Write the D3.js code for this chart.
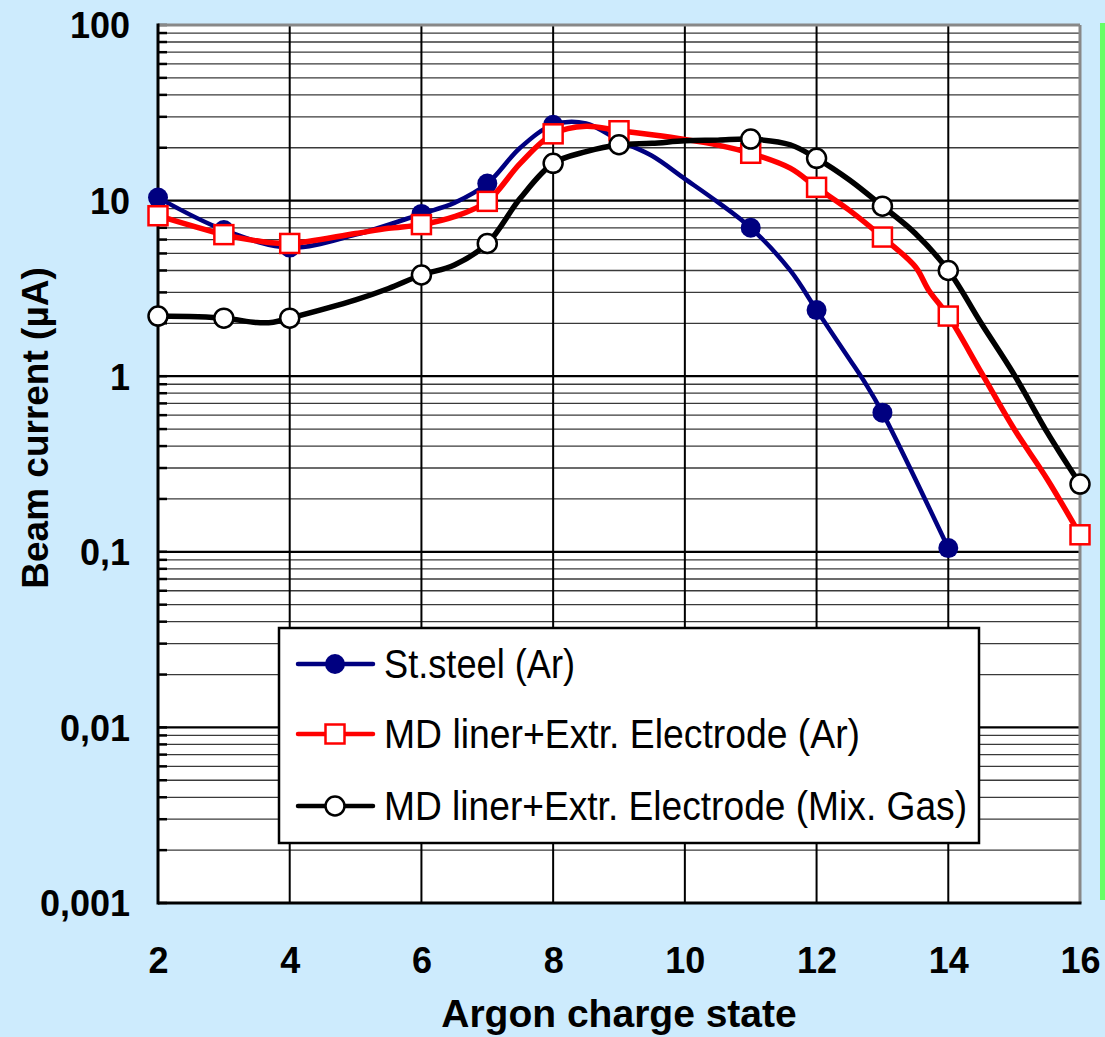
<!DOCTYPE html>
<html>
<head>
<meta charset="utf-8">
<script src="https://cdnjs.cloudflare.com/ajax/libs/d3/7.8.5/d3.min.js"></script>
<style>
  body { margin: 0; background: #cdebfd; }
  svg { display: block; }
  text { font-family: "Liberation Sans", Arial, sans-serif; }
</style>
</head>
<body>
<svg id="viz-svg" width="1105" height="1037"></svg>
<script>
// ---- data ----
var xTicks = [2, 4, 6, 8, 10, 12, 14, 16];
var yTicks = [100, 10, 1, 0.1, 0.01, 0.001];
var yTickLabels = ["100", "10", "1", "0,1", "0,01", "0,001"];

var steelX = [2, 3, 4, 5, 6, 6.5, 7, 7.5, 8, 8.5, 9, 9.5, 10, 10.5, 11, 11.6, 12, 12.5, 12.75, 13, 14];
var steelY = [10.4, 6.8, 5.4, 6.4, 8.4, 9.7, 12.5, 20, 27, 27.5, 22, 18, 13.3, 9.8, 7.0, 4.0, 2.38, 1.25, 0.9, 0.62, 0.105];
var steelMarks = [2, 3, 4, 6, 7, 8, 11, 12, 13, 14];

var mdArX = [2, 3, 3.5, 4, 5, 5.5, 6, 6.5, 7, 7.5, 8, 8.5, 9, 9.5, 10, 10.5, 11, 11.6, 12, 12.5, 13, 13.5, 13.7, 14, 14.5, 15, 15.5, 16];
var mdArY = [8.2, 6.4, 5.9, 5.7, 6.5, 6.95, 7.3, 8.1, 9.9, 16.3, 24, 26.5, 25, 23.7, 22.3, 20.7, 18.6, 15.3, 11.9, 8.8, 6.2, 4.2, 3.1, 2.2, 1.05, 0.5, 0.26, 0.125];
var mdArMarks = [2, 3, 4, 6, 7, 8, 9, 11, 12, 13, 14, 16];

var mixX = [2, 3, 3.5, 3.75, 4, 5, 5.5, 6, 6.5, 7, 7.5, 8, 8.5, 9, 9.5, 10, 10.5, 11, 11.6, 12, 12.5, 13, 13.5, 14, 14.5, 15, 15.5, 15.75, 16];
var mixY = [2.2, 2.14, 2.02, 2.03, 2.14, 2.72, 3.16, 3.77, 4.3, 5.7, 10.3, 16.3, 19, 20.8, 21.2, 21.9, 22.1, 22.4, 20.8, 17.4, 13.1, 9.3, 6.5, 4.0, 2.0, 1.02, 0.48, 0.34, 0.243];
var mixMarks = [2, 3, 4, 6, 7, 8, 9, 11, 12, 13, 14, 16];

var seriesNames = ["St.steel (Ar)", "MD liner+Extr. Electrode (Ar)", "MD liner+Extr. Electrode (Mix. Gas)"];

var series = [
  {name: seriesNames[0], xs: steelX, ys: steelY, marks: steelMarks, color: "#000080", width: 4.5, marker: "dot"},
  {name: seriesNames[1], xs: mdArX, ys: mdArY, marks: mdArMarks, color: "#ff0000", width: 5.5, marker: "square"},
  {name: seriesNames[2], xs: mixX, ys: mixY, marks: mixMarks, color: "#000000", width: 5.5, marker: "circle"}
];

var svg = d3.select("#viz-svg");
var pLeft = 158, pRight = 1080, pTop = 25, pBottom = 903;

var x = d3.scaleLinear().domain([2, 16]).range([pLeft, pRight]);
var y = d3.scaleLog().domain([0.001, 100]).range([pBottom, pTop]);

// green strip at the right
svg.append("rect").attr("x", 1100).attr("y", 23).attr("width", 6).attr("height", 877).attr("fill", "#66ff66");

// plot area
svg.append("rect").attr("x", pLeft).attr("y", pTop).attr("width", pRight - pLeft).attr("height", pBottom - pTop).attr("fill", "#fff");

// minor grid
var minor = [];
[0.001, 0.01, 0.1, 1, 10].forEach(function(d){
  for (var k = 2; k < 10; k++) minor.push(d * k);
});
var grid = svg.append("g");
grid.selectAll(".minor").data(minor).enter().append("line")
  .attr("x1", pLeft).attr("x2", pRight)
  .attr("y1", function(d){ return y(d); }).attr("y2", function(d){ return y(d); })
  .attr("stroke", "#3a3a3a").attr("stroke-width", 1.3);
grid.selectAll(".major").data(yTicks).enter().append("line")
  .attr("x1", pLeft).attr("x2", pRight)
  .attr("y1", function(d){ return y(d); }).attr("y2", function(d){ return y(d); })
  .attr("stroke", "#000").attr("stroke-width", 2.2);
grid.selectAll(".vert").data(xTicks).enter().append("line")
  .attr("x1", function(d){ return x(d); }).attr("x2", function(d){ return x(d); })
  .attr("y1", pTop).attr("y2", pBottom)
  .attr("stroke", "#000").attr("stroke-width", 2);
// short ticks inside the left axis
grid.selectAll(".tick-in").data(minor.concat(yTicks)).enter().append("line")
  .attr("x1", pLeft).attr("x2", pLeft + 9)
  .attr("y1", function(d){ return y(d); }).attr("y2", function(d){ return y(d); })
  .attr("stroke", "#000").attr("stroke-width", 2.5);

// frame: top/right gray, left/bottom black
svg.append("line").attr("x1", pLeft).attr("x2", pRight).attr("y1", pTop).attr("y2", pTop).attr("stroke", "#888").attr("stroke-width", 3);
svg.append("line").attr("x1", pRight).attr("x2", pRight).attr("y1", pTop).attr("y2", pBottom).attr("stroke", "#888").attr("stroke-width", 3);
svg.append("line").attr("x1", pLeft).attr("x2", pLeft).attr("y1", pTop - 1.5).attr("y2", pBottom + 1.5).attr("stroke", "#000").attr("stroke-width", 3);
svg.append("line").attr("x1", pLeft).attr("x2", pRight + 1.5).attr("y1", pBottom).attr("y2", pBottom).attr("stroke", "#000").attr("stroke-width", 3);

// series
var line = d3.line()
  .x(function(d){ return x(d[0]); })
  .y(function(d){ return y(d[1]); })
  .curve(d3.curveCatmullRom.alpha(0.5));

function drawMarker(g, type, cx, cy, color){
  if (type === "dot") {
    g.append("circle").attr("cx", cx).attr("cy", cy).attr("r", 10).attr("fill", color);
  } else if (type === "square") {
    g.append("rect").attr("x", cx - 9.5).attr("y", cy - 9.5).attr("width", 19).attr("height", 19)
      .attr("fill", "#fff").attr("stroke", color).attr("stroke-width", 2.5);
  } else {
    g.append("circle").attr("cx", cx).attr("cy", cy).attr("r", 9.5)
      .attr("fill", "#fff").attr("stroke", color).attr("stroke-width", 2.5);
  }
}

series.forEach(function(s){
  var pts = s.xs.map(function(v, i){ return [v, s.ys[i]]; });
  var g = svg.append("g");
  g.append("path").datum(pts).attr("d", line)
    .attr("fill", "none").attr("stroke", s.color).attr("stroke-width", s.width)
    .attr("stroke-linejoin", "round");
  pts.filter(function(p){ return s.marks.indexOf(p[0]) >= 0; }).forEach(function(p){
    drawMarker(g, s.marker, x(p[0]), y(p[1]), s.color);
  });
});

// axes labels via d3 axes
var yAxis = d3.axisLeft(y).tickValues(yTicks)
  .tickFormat(function(d, i){ return yTickLabels[i]; })
  .tickSize(0).tickPadding(28);
var gy = svg.append("g").attr("transform", "translate(" + pLeft + ",0)").call(yAxis);
gy.select(".domain").remove();
gy.selectAll("text").attr("font-size", 36).attr("font-weight", "bold").attr("fill", "#000")
  .attr("font-family", "Liberation Sans, Arial, sans-serif").attr("dy", "0.36em");

var xAxis = d3.axisBottom(x).tickValues(xTicks).tickFormat(d3.format("d")).tickSize(0).tickPadding(44);
var gx = svg.append("g").attr("transform", "translate(0," + pBottom + ")").call(xAxis);
gx.select(".domain").remove();
gx.selectAll("text").attr("font-size", 36).attr("font-weight", "bold").attr("fill", "#000")
  .attr("font-family", "Liberation Sans, Arial, sans-serif").attr("dy", "0.71em");

// axis titles
svg.append("text").attr("x", 619).attr("y", 1027).attr("text-anchor", "middle")
  .attr("font-size", 39).attr("font-weight", "bold").text("Argon charge state");
svg.append("text").attr("transform", "translate(48,428) rotate(-90)").attr("text-anchor", "middle")
  .attr("font-size", 37).attr("font-weight", "bold").text("Beam current (\u00b5A)");

// legend
var legend = svg.append("g").attr("id", "legend-container");
legend.append("rect").attr("x", 279).attr("y", 628).attr("width", 700).attr("height", 215)
  .attr("fill", "#fff").attr("stroke", "#000").attr("stroke-width", 2.5);
var rowY = [664, 734, 806];
var textLen = [191, 476, 583];
series.forEach(function(s, i){
  legend.append("line").attr("x1", 298).attr("x2", 373).attr("y1", rowY[i]).attr("y2", rowY[i])
    .attr("stroke", s.color).attr("stroke-width", 4.5).attr("stroke-linecap", "round");
  drawMarker(legend, s.marker, 335, rowY[i], s.color);
  legend.append("text").attr("x", 384).attr("y", rowY[i] + 14)
    .attr("font-size", 40).attr("textLength", textLen[i]).attr("lengthAdjust", "spacingAndGlyphs")
    .text(s.name);
});
</script>
</body>
</html>
